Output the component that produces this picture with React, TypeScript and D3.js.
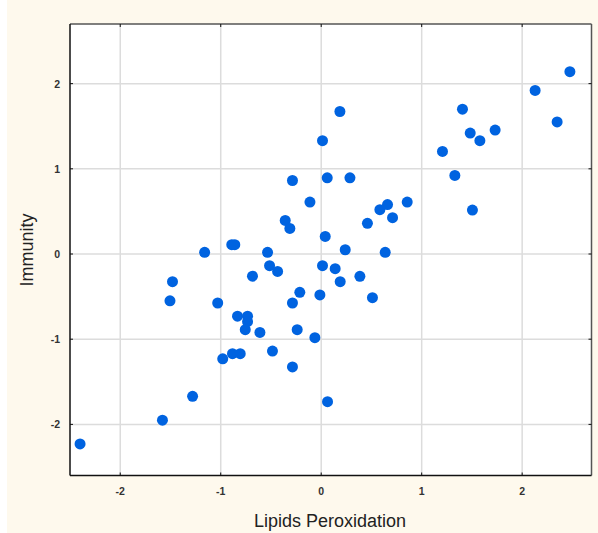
import * as d3 from "d3";

// Lipids Peroxidation (x) vs Immunity (y), standardized scores
const lipids = [
  -2.4, -1.58, -1.28, -1.505, -1.48, -1.16, -1.03, -0.98, -0.89, -0.86,
  -0.883, -0.806, -0.833, -0.733, -0.733, -0.756, -0.684, -0.61, -0.534, -0.514,
  -0.485, -0.434, -0.358, -0.312, -0.286, -0.286, -0.286, -0.239, -0.213, -0.112,
  -0.063, -0.013, 0.013, 0.013, 0.04, 0.06, 0.063, 0.139, 0.186, 0.189,
  0.239, 0.286, 0.385, 0.46, 0.51, 0.584, 0.637, 0.66, 0.71, 0.856,
  1.207, 1.33, 1.406, 1.483, 1.505, 1.579, 1.731, 2.129, 2.348, 2.475,
];
const immunity = [
  -2.23, -1.95, -1.67, -0.55, -0.325, 0.02, -0.575, -1.23, 0.11, 0.11,
  -1.17, -1.17, -0.73, -0.73, -0.795, -0.888, -0.26, -0.92, 0.02, -0.137,
  -1.14, -0.204, 0.394, 0.3, 0.863, -0.575, -1.326, -0.888, -0.45, 0.61,
  -0.982, -0.48, 1.33, -0.137, 0.206, 0.895, -1.733, -0.172, 1.673, -0.325,
  0.05, 0.895, -0.262, 0.36, -0.513, 0.52, 0.02, 0.58, 0.426, 0.61,
  1.204, 0.922, 1.7, 1.42, 0.516, 1.33, 1.455, 1.92, 1.55, 2.14,
];
const xTicks = [-2, -1, 0, 1, 2];
const yTicks = [-2, -1, 0, 1, 2];

const W = 598;
const H = 533;
const left = 70, right = 591.5, top = 24, bottom = 475.5;

export default function App() {
  const x = d3.scaleLinear().domain([-2.5, 2.69]).range([left, right]);
  const y = d3.scaleLinear().domain([-2.6, 2.7]).range([bottom, top]);
  const font = "'Liberation Sans', Arial, sans-serif";

  return (
    <svg
      width={W}
      height={H}
      style={{ position: "absolute", left: 0, top: 0 }}
      fontFamily={font}
    >
      <rect x={0} y={0} width={W} height={H} fill="#ffffff" />
      <rect x={7} y={0} width={W - 7} height={H} fill="#fef9ed" />
      <rect x={left} y={top} width={right - left} height={bottom - top} fill="#ffffff" />

      {xTicks.map((t) => (
        <line key={"gx" + t} x1={x(t)} x2={x(t)} y1={top} y2={bottom} stroke="#dcdcdc" strokeWidth={1.5} />
      ))}
      {yTicks.map((t) => (
        <line key={"gy" + t} x1={left} x2={right} y1={y(t)} y2={y(t)} stroke="#dcdcdc" strokeWidth={1.5} />
      ))}

      {lipids.map((v, i) => (
        <circle key={i} cx={x(v)} cy={y(immunity[i])} r={5.5} fill="#0063e0" />
      ))}

      {/* frame */}
      <line x1={left} x2={right} y1={top} y2={top} stroke="#555" strokeWidth={1.5} />
      <line x1={right} x2={right} y1={top} y2={bottom} stroke="#555" strokeWidth={1.5} />
      <line x1={left} x2={left} y1={top} y2={bottom} stroke="#111" strokeWidth={1.5} />
      <line x1={left} x2={right} y1={bottom} y2={bottom} stroke="#111" strokeWidth={1.5} />

      {xTicks.map((t) => (
        <g key={"tx" + t}>
          <line x1={x(t)} x2={x(t)} y1={bottom} y2={bottom - 3} stroke="#111" />
          <line x1={x(t)} x2={x(t)} y1={top} y2={top + 3} stroke="#111" />
          <text x={x(t)} y={495} textAnchor="middle" fontSize={10.5} fontWeight="bold" fill="#333">
            {t}
          </text>
        </g>
      ))}
      {yTicks.map((t) => (
        <g key={"ty" + t}>
          <line x1={left} x2={left + 3} y1={y(t)} y2={y(t)} stroke="#111" />
          <line x1={right} x2={right - 3} y1={y(t)} y2={y(t)} stroke="#111" />
          <text x={60} y={y(t) + 4} textAnchor="end" fontSize={10.5} fontWeight="bold" fill="#333">
            {t}
          </text>
        </g>
      ))}

      <text x={330} y={527} textAnchor="middle" fontSize={18} fill="#222">
        Lipids Peroxidation
      </text>
      <text
        transform={`translate(33,250) rotate(-90)`}
        textAnchor="middle"
        fontSize={18}
        fill="#222"
      >
        Immunity
      </text>
    </svg>
  );
}
